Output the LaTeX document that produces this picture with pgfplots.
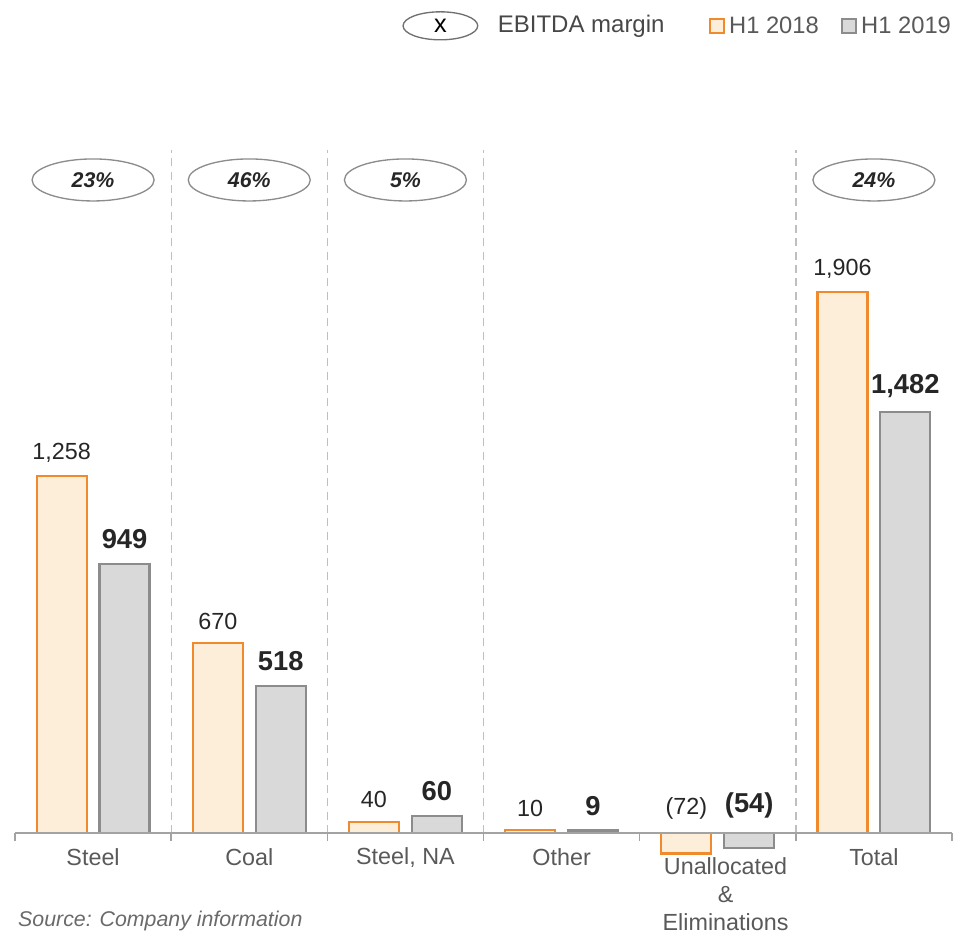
\documentclass[border=0pt]{standalone}
\usepackage{pgfplots}
\pgfplotsset{compat=1.18}
\usepackage{pgfplotstable}
\usetikzlibrary{shapes.geometric}
\usepackage{fontspec}
\setmainfont{Liberation Sans}

\definecolor{orEdge}{HTML}{F08A2C}
\definecolor{orFill}{HTML}{FDEEDA}
\definecolor{grEdge}{HTML}{8C8C8C}
\definecolor{grFill}{HTML}{D9D9D9}
\definecolor{valTxt}{HTML}{262626}
\definecolor{catTxt}{HTML}{595959}
\definecolor{sepLine}{HTML}{BFBFBF}

% EBITDA by segment, US$ m
\pgfplotstableread{
x  a     b     la     lb
0  1258  949   1,258  949
1  670   518   670    518
2  40    60    40     60
3  10    9     10     9
4  -72   -54   (72)   (54)
5  1906  1482  1,906  1,482
}\ebitda

\begin{document}
\begin{tikzpicture}
\begin{axis}[
  scale only axis, width=702.75pt, height=701.25pt,
  xmin=-0.5, xmax=5.5, ymin=-359, ymax=2935,
  axis lines=none, ticks=none, clip=false,
  bar width=37.5pt,
]
% separators between segments
\foreach \s in {0.5,1.5,2.5,4.5}{
  \edef\tmp{\noexpand\draw[sepLine, line width=1pt, dash pattern=on 6pt off 4pt] (axis cs:\s,0) -- (axis cs:\s,2407);}\tmp
}
% bars
\addplot[ybar, bar shift=-23.6pt, draw=orEdge, fill=orFill, line width=1.6pt] table[x=x, y=a] {\ebitda};
\addplot[ybar, bar shift=23.6pt, draw=grEdge, fill=grFill, line width=1.6pt] table[x=x, y=b] {\ebitda};
% value labels
\addplot[draw=none, mark=none, nodes near coords, point meta=explicit symbolic,
  nodes near coords style={anchor=south, inner sep=0pt, yshift=10pt, xshift=-23.6pt,
    font=\fontsize{17.5pt}{20pt}\selectfont, text=valTxt}]
  table[x=x, y expr={max(\thisrow{a},0)}, meta=la] {\ebitda};
\addplot[draw=none, mark=none, nodes near coords, point meta=explicit symbolic,
  nodes near coords style={anchor=south, inner sep=0pt, yshift=11pt, xshift=23.6pt,
    font=\fontsize{20.5pt}{23pt}\selectfont\bfseries, text=valTxt}]
  table[x=x, y expr={max(\thisrow{b},0)}, meta=lb] {\ebitda};
% baseline with segment ticks
\draw[grEdge!80, line width=1.2pt] (axis cs:-0.5,0) -- (axis cs:5.5,0);
\foreach \s in {-0.5,0.5,1.5,2.5,3.5,4.5,5.5}{
  \edef\tmp{\noexpand\draw[grEdge!80, line width=1.2pt] (axis cs:\s,0) -- ([yshift=-6pt]axis cs:\s,0);}\tmp
}
% segment names
\foreach \i/\n in {0/Steel,1/Coal,2/{Steel, NA},3/Other,5/Total}{
  \edef\tmp{\noexpand\node[text=catTxt, font=\noexpand\fontsize{17.5pt}{20pt}\noexpand\selectfont] at (axis cs:\i,-85) {\n};}\tmp
}
\node[text=catTxt, align=center, font=\fontsize{17.5pt}{21pt}\selectfont] at (axis cs:4.05,-214) {Unallocated\\\&\\Eliminations};
% EBITDA margins
\foreach \i/\m in {0/23,1/46,2/5,5/24}{
  \edef\tmp{\noexpand\node[draw=grEdge, line width=1pt, ellipse, minimum width=91.5pt, minimum height=31.5pt, inner sep=0pt,
    text=valTxt, font=\noexpand\fontsize{16pt}{18pt}\noexpand\selectfont\noexpand\bfseries\noexpand\itshape] at (axis cs:\i,2301) {\m\noexpand\%};}\tmp
}
% legend
\node[draw=grEdge!80!black, line width=1pt, ellipse, minimum width=56pt, minimum height=21pt, inner sep=0pt,
  font=\fontsize{19pt}{20pt}\selectfont] at (axis cs:2.224,2844) {x};
\node[anchor=west, inner sep=0pt, text=catTxt!80!black, font=\fontsize{18pt}{20pt}\selectfont] at (axis cs:2.59,2844) {EBITDA margin};
\draw[orEdge, fill=orFill, line width=1.2pt] ([xshift=-5.25pt, yshift=-5.25pt]axis cs:3.994,2844) rectangle ([xshift=5.25pt, yshift=5.25pt]axis cs:3.994,2844);
\node[anchor=west, inner sep=0pt, text=catTxt, font=\fontsize{17.8pt}{20pt}\selectfont] at (axis cs:4.071,2844) {H1 2018};
\draw[grEdge, fill=grFill, line width=1.2pt] ([xshift=-5.25pt, yshift=-5.25pt]axis cs:4.84,2844) rectangle ([xshift=5.25pt, yshift=5.25pt]axis cs:4.84,2844);
\node[anchor=west, inner sep=0pt, text=catTxt, font=\fontsize{17.8pt}{20pt}\selectfont] at (axis cs:4.917,2844) {H1 2019};
% source
\node[anchor=west, inner sep=0pt, text=catTxt!90, font=\fontsize{16pt}{18pt}\selectfont\itshape] at (axis cs:-0.481,-310) {Source: Company information};
\end{axis}
\pgfresetboundingbox
\path ([xshift=-11.25pt]current axis.south west) rectangle ([xshift=12.75pt]current axis.north east);
\end{tikzpicture}
\end{document}
